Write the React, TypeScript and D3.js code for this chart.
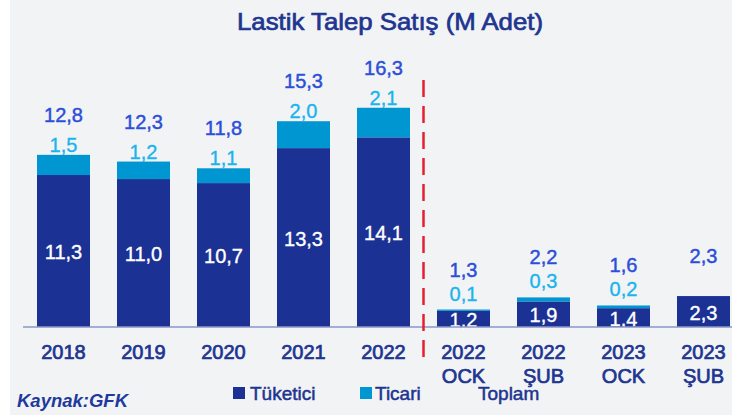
import { scaleBand, scaleLinear } from "d3";

const W = 732;
const H = 418;

// categories (second line used by the monthly groups)
const years = ["2018", "2019", "2020", "2021", "2022", "2022", "2022", "2023", "2023"];
const months = ["", "", "", "", "", "OCK", "ŞUB", "OCK", "ŞUB"];
const tuketici = [11.3, 11.0, 10.7, 13.3, 14.1, 1.2, 1.9, 1.4, 2.3];
const ticari = [1.5, 1.2, 1.1, 2.0, 2.1, 0.1, 0.3, 0.2, 0];
const toplam = [12.8, 12.3, 11.8, 15.3, 16.3, 1.3, 2.2, 1.6, 2.3];
const legendLabels = ["Tüketici", "Ticari", "Toplam"];

const DARK = "#1b3294";
const LIGHT = "#0096d1";
const TOTAL_TXT = "#2c4fd9";
const TICARI_TXT = "#1bb4ee";
const NAVY = "#203590";
const FONT = "'Liberation Sans', Arial, sans-serif";

const fmt = (v: number) => v.toFixed(1).replace(".", ",");

export default function App() {
  const keys = years.map((y, i) => `${y}-${months[i]}-${i}`);
  const BASE = 327;

  const xScale = scaleBand<string>()
    .domain(keys)
    .range([23.5, 743.5])
    .paddingInner(0.3375)
    .paddingOuter(0.16875);
  const yScale = scaleLinear().domain([0, 17]).range([BASE, BASE - 17 * 13.45]);
  const bw = xScale.bandwidth();

  const splitX = ((xScale(keys[4]) ?? 0) + bw + (xScale(keys[5]) ?? 0)) / 2;

  // light outline to thicken the regular face a little
  const medium = (c: string, w = 0.45) => ({ stroke: c, strokeWidth: w });

  return (
    <div style={{ position: "absolute", left: 0, top: 0 }}>
      <svg width={W} height={H} style={{ display: "block" }}>
        <rect width={W} height={H} fill="#ffffff" />
        <rect x={10} y={0} width={W - 10} height={415} fill="#f2f3f5" />

        <text
          x={390}
          y={30}
          textAnchor="middle"
          fontFamily="'Liberation Sans Narrow', 'Liberation Sans', sans-serif"
          fontSize={24}
          textLength={306}
          lengthAdjust="spacingAndGlyphs"
          fill={NAVY}
          {...medium(NAVY, 0.7)}
        >
          Lastik Talep Satış (M Adet)
        </text>

        {keys.map((k, i) => {
          const x = xScale(k) ?? 0;
          const cx = x + bw / 2;
          const yDark = yScale(tuketici[i]);
          const yTop = yScale(toplam[i]);
          return (
            <g key={k}>
              <rect x={x} y={yDark} width={bw} height={BASE - yDark} fill={DARK} />
              {ticari[i] > 0 && (
                <rect x={x} y={yTop} width={bw} height={yDark - yTop} fill={LIGHT} />
              )}
              <text
                x={cx}
                y={(yDark + BASE) / 2 + 1}
                dominantBaseline="central"
                textAnchor="middle"
                fontFamily={FONT}
                fontSize={20}
                fill="#ffffff"
                {...medium("#ffffff", 0.35)}
              >
                {fmt(tuketici[i])}
              </text>
              {ticari[i] > 0 && (
                <text
                  x={cx}
                  y={yTop - (i < 5 ? 10 : 16)}
                  dominantBaseline="central"
                  textAnchor="middle"
                  fontFamily={FONT}
                  fontSize={20}
                  fill={TICARI_TXT}
                  {...medium(TICARI_TXT, 0.35)}
                >
                  {fmt(ticari[i])}
                </text>
              )}
              <text
                x={cx}
                y={yTop - 40}
                dominantBaseline="central"
                textAnchor="middle"
                fontFamily={FONT}
                fontSize={20}
                fill={TOTAL_TXT}
                {...medium(TOTAL_TXT, 0.45)}
              >
                {fmt(toplam[i])}
              </text>
              <text
                x={cx}
                y={359}
                textAnchor="middle"
                fontFamily={FONT}
                fontSize={20}
                fill={NAVY}
                {...medium(NAVY, 0.7)}
              >
                {years[i]}
              </text>
              {months[i] && (
                <text
                  x={cx}
                  y={383}
                  textAnchor="middle"
                  fontFamily={FONT}
                  fontSize={20}
                  fill={NAVY}
                  {...medium(NAVY, 0.7)}
                >
                  {months[i]}
                </text>
              )}
            </g>
          );
        })}

        <line x1={23} x2={W} y1={BASE} y2={BASE} stroke="#8a96c8" strokeWidth={1.5} />

        <line
          x1={splitX}
          x2={splitX}
          y1={80}
          y2={363}
          stroke="#e5202e"
          strokeWidth={2.5}
          strokeDasharray="17 9"
        />

        <g fontFamily={FONT} fontSize={19} fill={NAVY} {...medium(NAVY, 0.5)}>
          <rect x={233} y={387} width={12} height={12} fill={DARK} stroke="none" />
          <text x={250} y={400}>{legendLabels[0]}</text>
          <rect x={360} y={387} width={12} height={12} fill={LIGHT} stroke="none" />
          <text x={375} y={400}>{legendLabels[1]}</text>
          <text x={478} y={400}>{legendLabels[2]}</text>
        </g>

        <text
          x={17}
          y={407}
          fontFamily={FONT}
          fontSize={18.5}
          fontWeight="bold"
          fontStyle="italic"
          fill="#1d3a9c"
        >
          Kaynak:GFK
        </text>
      </svg>
    </div>
  );
}
